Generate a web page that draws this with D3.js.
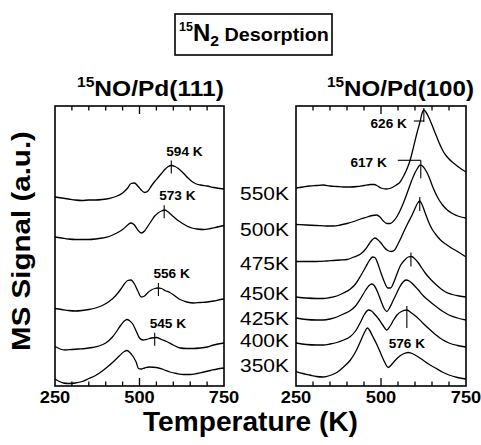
<!DOCTYPE html>
<html>
<head>
<meta charset="utf-8">
<script src="https://cdn.jsdelivr.net/npm/d3@7/dist/d3.min.js"></script>
<style>
  body { margin: 0; background: #fff; }
  svg { display: block; font-family: Arial, "Liberation Sans", Helvetica, sans-serif; }
</style>
</head>
<body>
<div id="chart"></div>
<script>
// temperature axis (K)
const tempTicks = [250, 500, 750];
const minorTicks = [300, 350, 400, 450, 550, 600, 650, 700];

// 15NO/Pd(111) traces, top to bottom: [T (K), signal (a.u., offset included)]
const pd111_a = [[250,189],[270,188],[290,187],[310,186],[330,185.5],[350,186],[370,186],[390,186.5],[410,187.5],[430,189.5],[450,193],[465,198],[475,202.5],[485,203],[495,200],[505,196],[515,193.5],[525,195],[535,200],[545,204.5],[555,208.5],[565,212.5],[575,216.5],[585,219.5],[595,220.5],[605,219.5],[615,217.5],[625,214.5],[635,211],[645,207.5],[655,204.5],[665,202.5],[680,201],[700,200],[720,198.5],[750,197]];
const pd111_b = [[250,149],[270,148],[290,147],[310,146.5],[330,146.5],[350,146.5],[370,147],[390,148],[410,149.5],[430,152.5],[450,156.5],[465,161],[475,163],[485,161],[495,156],[505,153],[515,155],[525,160],[535,165],[545,170],[555,173],[565,175],[575,176],[585,174],[595,171],[610,166.5],[625,163],[640,160],[655,158],[670,157],[690,156.5],[710,157.5],[730,159],[750,160.5]];
const pd111_c = [[250,77.5],[270,76.5],[290,75.5],[310,75],[330,75.5],[350,76.5],[370,78],[390,80.5],[410,84.5],[430,90.5],[445,97],[455,102],[465,105.5],[475,106],[485,102],[495,95],[505,89],[515,90],[525,93.5],[535,96],[545,97.5],[555,98],[565,97.5],[575,95.5],[590,93.5],[605,90],[620,86.5],[640,84],[660,83],[680,83.5],[700,84],[720,85],[740,86.5],[750,87]];
const pd111_d = [[250,39.5],[265,37],[280,36],[300,36.5],[320,37],[340,37.5],[360,38.5],[380,40],[400,43],[420,49],[435,56],[445,61],[455,65],[463,66.5],[470,65.5],[480,62],[490,55],[500,48],[510,46],[520,46.5],[535,48],[550,48.5],[565,46.5],[580,44.5],[600,41],[620,38],[640,37.5],[660,37.5],[680,38],[700,39],[720,41],[750,43]];
const pd111_e = [[250,7],[260,5],[275,3],[290,2.5],[310,3],[330,4.5],[350,7.5],[370,10.5],[390,15],[410,20.5],[425,25],[440,30],[455,34.5],[463,35.5],[470,34],[480,30],[490,24],[497,17.5],[505,17],[515,18],[530,19],[550,18.5],[570,16.5],[590,14],[610,12.5],[630,11.5],[650,11.5],[670,12.5],[690,14],[710,15.5],[730,17],[750,18]];
const pd111Traces = [pd111_a, pd111_b, pd111_c, pd111_d, pd111_e];
const pd111Peaks = [
  {trace: 0, temp: 594, label: '594 K'},
  {trace: 1, temp: 573, label: '573 K'},
  {trace: 2, temp: 556, label: '556 K'},
  {trace: 3, temp: 545, label: '545 K'}
];

// 15NO/Pd(100) traces by adsorption temperature
const pd100Labels = ['550K', '500K', '475K', '450K', '425K', '400K', '350K'];
const pd100_550 = [[250,198],[270,199],[290,200],[310,200.5],[330,201],[350,200],[370,199.5],[390,199],[410,199],[430,199.5],[450,200.5],[470,201.5],[480,201.5],[490,200],[500,198],[515,197],[530,198],[545,201],[555,203.5],[565,209],[575,216],[585,225],[595,238],[605,252],[615,264.5],[621,273],[626,276],[632,274],[640,269],[650,261],[660,252.5],[670,244],[680,236.5],[690,231],[700,227],[715,222.5],[730,218.5],[750,214]];
const pd100_500 = [[250,161.5],[280,161],[310,160.5],[340,160],[360,160],[380,161],[400,162.5],[420,164.5],[440,167],[460,169],[475,170.5],[487,171],[497,169],[507,165],[517,162.5],[527,162.5],[537,165],[547,169.5],[557,176],[567,184],[577,193],[587,202.5],[597,211],[607,217.5],[615,221],[622,220],[630,216.5],[640,210],[650,201],[660,193],[670,186.5],[680,181.5],[695,176],[710,172.5],[730,169.5],[750,168]];
const pd100_475 = [[250,124.5],[280,124.5],[310,124.5],[340,125],[360,125.5],[380,126],[400,126.5],[420,129],[440,132],[455,137],[465,142],[475,146.5],[482,148],[490,146.5],[500,143],[510,138.5],[520,135.5],[530,134.5],[540,136],[550,142],[560,149],[570,156.5],[580,163.5],[590,170],[600,177.5],[608,183],[614,185],[620,182],[630,173],[640,164],[650,157],[660,152],[675,146],[690,142],[705,138.5],[725,134.5],[750,129]];
const pd100_450 = [[250,89],[280,88],[310,87.5],[330,87.5],[350,88.5],[370,90],[390,93],[410,97],[425,102],[440,110],[455,119],[465,125],[475,129],[482,128.5],[490,123],[500,113],[510,104],[520,98],[528,98],[538,104],[548,113],[558,121],[570,126],[580,129],[590,129.5],[600,127],[610,123],[620,118],[630,113],[645,107],[660,102],[675,97.5],[690,94],[710,91.5],[730,90],[750,89]];
const pd100_425 = [[250,68],[280,66.5],[310,66],[330,66],[350,67],[370,69],[390,72],[410,75.5],[425,80],[440,87.5],[455,96],[465,100.5],[473,102],[480,100.5],[490,94],[500,85],[510,77],[517,74.5],[525,78],[535,85],[545,92],[555,99],[565,104],[573,106],[583,105],[595,101.5],[610,96],[625,90],[640,85.5],[660,80],[680,75],[700,71],[725,68],[750,66]];
const pd100_400 = [[250,43],[280,41.5],[310,41],[330,41],[350,42],[370,43.5],[390,46],[410,49.5],[425,55],[440,64],[452,72],[463,76],[472,75],[482,71.5],[492,67.5],[505,61],[517,56],[527,60],[537,66],[547,71],[560,74.5],[576,76],[590,73],[605,69],[620,64],[640,57.5],[660,51.5],[680,46.5],[700,43],[725,40.5],[750,39]];
const pd100_350 = [[250,14.5],[270,12.5],[290,11],[310,9.5],[330,9],[350,10.5],[370,13.5],[390,19],[410,26],[425,34],[440,45],[452,54],[460,58],[466,56],[475,50],[487,42],[500,32],[512,23],[521,18.5],[530,21],[540,25],[550,28.5],[565,32],[580,33.5],[595,32],[610,29],[625,25.5],[640,22],[660,18],[680,14],[700,11],[725,8.5],[750,7]];
const pd100Traces = [pd100_550, pd100_500, pd100_475, pd100_450, pd100_425, pd100_400, pd100_350];
const pd100Peaks = [
  {trace: 0, temp: 626, label: '626 K'},
  {trace: 1, temp: 617, label: '617 K'},
  {trace: 2, temp: 614, label: ''},
  {trace: 3, temp: 588, label: ''},
  {trace: 5, temp: 576, label: '576 K'}
];

const WIDTH = 481, HEIGHT = 445;
const TOP = 106, BOTTOM = 386;
const PANELS = [
  {left: 55, right: 224, traces: pd111Traces, peaks: pd111Peaks, title: 'NO/Pd(111)', titleX: 77},
  {left: 296, right: 466, traces: pd100Traces, peaks: pd100Peaks, title: 'NO/Pd(100)', titleX: 327}
];
// baselines of the adsorption temperature labels
const LABEL_Y = [200, 236.5, 270, 300, 325, 347, 372];

const svg = d3.select('#chart').append('svg')
  .attr('width', WIDTH)
  .attr('height', HEIGHT);

const y = d3.scaleLinear().domain([0, 280]).range([BOTTOM, TOP]);

// squeeze/stretch a text horizontally around its anchor to a target width
const fit = (text, width) => {
  const b = text.node().getBBox();
  const anchor = text.attr('text-anchor') || 'start';
  const cx = anchor === 'middle' ? b.x + b.width / 2 : anchor === 'end' ? b.x + b.width : b.x;
  text.attr('transform', `translate(${cx},0) scale(${width / b.width},1) translate(${-cx},0)`);
  return text;
};

const valueAt = (trace, t) => {
  const i = d3.bisector(d => d[0]).left(trace, t);
  if (i <= 0) return trace[0][1];
  const a = trace[i - 1], b = trace[i];
  return a[1] + (b[1] - a[1]) * (t - a[0]) / (b[0] - a[0]);
};

const drawPanel = (p) => {
  const x = d3.scaleLinear().domain([250, 750]).range([p.left, p.right]);
  const g = svg.append('g');

  // frame
  g.append('rect')
    .attr('x', p.left).attr('y', TOP)
    .attr('width', p.right - p.left).attr('height', BOTTOM - TOP)
    .attr('fill', 'none').attr('stroke', '#000').attr('stroke-width', 1.6);

  // inward ticks top and bottom
  const ticks = minorTicks.map(t => ({t, len: 4.5})).concat([{t: 500, len: 8}]);
  ticks.forEach(d => {
    g.append('line').attr('x1', x(d.t)).attr('x2', x(d.t))
      .attr('y1', TOP).attr('y2', TOP + d.len).attr('stroke', '#000').attr('stroke-width', 1.3);
    g.append('line').attr('x1', x(d.t)).attr('x2', x(d.t))
      .attr('y1', BOTTOM).attr('y2', BOTTOM - d.len).attr('stroke', '#000').attr('stroke-width', 1.3);
  });

  tempTicks.forEach(t => {
    const lbl = g.append('text')
      .attr('x', x(t)).attr('y', 403.5)
      .attr('text-anchor', 'middle')
      .attr('font-size', 17).attr('font-weight', 'bold')
      .text(t);
    fit(lbl, 30.5);
  });

  const line = d3.line()
    .x(d => x(d[0]))
    .y(d => y(d[1]))
    .curve(d3.curveMonotoneX);

  g.selectAll('.trace')
    .data(p.traces)
    .enter()
    .append('path')
    .attr('class', 'trace')
    .attr('d', line)
    .attr('fill', 'none')
    .attr('stroke', '#000')
    .attr('stroke-width', 1.3);

  // panel title with 15 superscript
  const title = g.append('text')
    .attr('x', p.titleX).attr('y', 96)
    .attr('font-weight', 'bold');
  title.append('tspan').attr('font-size', 14).attr('dy', -9).text('15');
  title.append('tspan').attr('font-size', 22).attr('dy', 9).text(p.title);
  fit(title, 147);

  return x;
};

const xs = PANELS.map(drawPanel);

// peak markers
const vline = (x, y1, y2) => svg.append('line')
  .attr('x1', x).attr('x2', x).attr('y1', y1).attr('y2', y2)
  .attr('stroke', '#000').attr('stroke-width', 1.1);
const hline = (x1, x2, yy) => svg.append('line')
  .attr('x1', x1).attr('x2', x2).attr('y1', yy).attr('y2', yy)
  .attr('stroke', '#000').attr('stroke-width', 1.1);
const peakText = (x, yy, anchor, s) => fit(svg.append('text')
  .attr('x', x).attr('y', yy).attr('text-anchor', anchor)
  .attr('font-size', 13).attr('font-weight', 'bold').text(s), 37);

pd111Peaks.forEach(d => {
  const mx = xs[0](d.temp), cy = y(valueAt(pd111Traces[d.trace], d.temp));
  vline(mx, cy - 5, cy + 8);
  peakText(mx - 5, cy - 10, 'start', d.label);
});

pd100Peaks.forEach(d => {
  const mx = xs[1](d.temp), cy = y(valueAt(pd100Traces[d.trace], d.temp));
  if (d.label === '626 K') {
    vline(mx, cy - 2, cy + 12);
    hline(mx - 10, mx, cy + 11);
    peakText(mx - 17, cy + 18, 'end', d.label);
  } else if (d.label === '617 K') {
    vline(mx, cy - 5, cy + 13);
    hline(mx - 23, mx, cy - 5);
    peakText(mx - 34, cy + 1.5, 'end', d.label);
  } else if (d.label === '576 K') {
    vline(mx, cy - 4, cy + 18);
    peakText(mx, cy + 38, 'middle', d.label);
  } else {
    vline(mx, cy - 4, cy + 10);
  }
});

// adsorption temperature labels between the panels
pd100Labels.forEach((s, i) => {
  const t = svg.append('text')
    .attr('x', 289).attr('y', LABEL_Y[i])
    .attr('text-anchor', 'end')
    .attr('font-size', 18)
    .text(s);
  fit(t, 49);
});

// boxed figure title
svg.append('rect')
  .attr('x', 175).attr('y', 14).attr('width', 157).attr('height', 41)
  .attr('fill', 'none').attr('stroke', '#000').attr('stroke-width', 1.6);
const head = svg.append('text')
  .attr('x', 254).attr('y', 41.5)
  .attr('text-anchor', 'middle')
  .attr('font-weight', 'bold');
head.append('tspan').attr('font-size', 12).attr('dy', -10).text('15');
head.append('tspan').attr('font-size', 23).attr('dy', 10).text('N');
head.append('tspan').attr('font-size', 15).attr('dy', 5).text('2');
head.append('tspan').attr('font-size', 19).attr('dy', -5).text(' Desorption');
fit(head, 150);

// axis titles
fit(svg.append('text')
  .attr('x', 250.5).attr('y', 431.5)
  .attr('text-anchor', 'middle')
  .attr('font-size', 27).attr('font-weight', 'bold')
  .text('Temperature (K)'), 215);

const yTitle = svg.append('g').attr('transform', 'translate(30,241) rotate(-90)');
fit(yTitle.append('text')
  .attr('x', 0).attr('y', 0)
  .attr('text-anchor', 'middle')
  .attr('font-size', 25).attr('font-weight', 'bold')
  .text('MS Signal (a.u.)'), 220);
</script>
</body>
</html>
